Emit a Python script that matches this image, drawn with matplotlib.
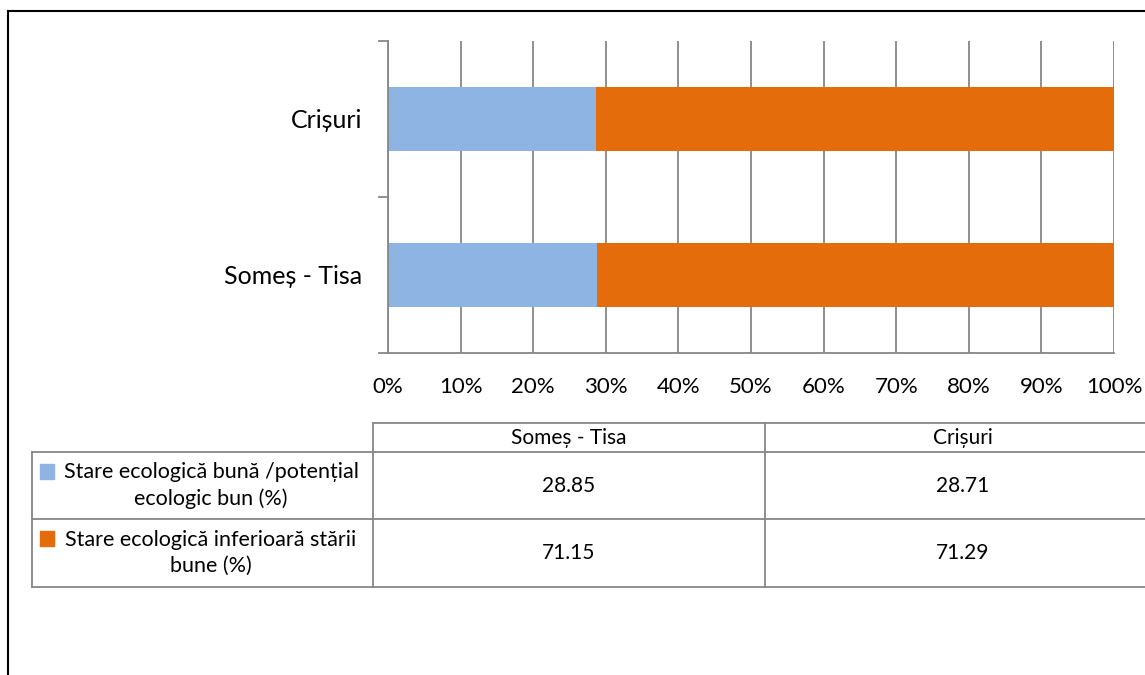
import numpy as np
import matplotlib
matplotlib.use('Agg')
import matplotlib.pyplot as plt
from matplotlib.patches import Rectangle

# date
categorii = ['Someș - Tisa', 'Crișuri']
serii = ['Stare ecologică bună /potențial\necologic bun (%)',
         'Stare ecologică inferioară stării\nbune (%)']
stare_buna = [28.85, 28.71]
stare_inferioara = [71.15, 71.29]
culori = ['#8EB4E3', '#E46C0A']
procente = ['0%', '10%', '20%', '30%', '40%', '50%', '60%', '70%', '80%', '90%', '100%']

W, H = 1145, 675
plt.rcParams['font.family'] = ['Lato', 'DejaVu Sans']
fig = plt.figure(figsize=(W / 100, H / 100), dpi=100)

def fx(px):
    return px / W

def fy(py):
    return 1 - py / H

# chenarul exterior (taiat in dreapta si jos)
fig.add_artist(plt.Line2D([fx(8), fx(8)], [fy(11), 0], color='black', lw=1.5))
fig.add_artist(plt.Line2D([fx(8), 1], [fy(11), fy(11)], color='black', lw=1.5))

# graficul cu bare stivuite
gri = '#868686'
ax = fig.add_axes([fx(388), fy(353), fx(1114) - fx(388), (353 - 41) / H])
y = np.arange(len(categorii))
ax.barh(y, stare_buna, height=0.41, color=culori[0])
ax.barh(y, stare_inferioara, left=stare_buna, height=0.41, color=culori[1])
ax.set_xlim(0, 100)
ax.set_ylim(-0.5, 1.5)
ax.set_xticks(np.arange(0, 101, 10))
ax.set_xticklabels(procente, fontsize=16)
ax.set_yticks(y)
ax.set_yticklabels(categorii, fontsize=18)
ax.tick_params(axis='y', length=0, pad=18.5)
ax.tick_params(axis='x', length=0, pad=17.5)
ax.grid(axis='x', color=gri, lw=1.3)
ax.set_axisbelow(True)
for s in ['top', 'right']:
    ax.spines[s].set_visible(False)
for s in ['left', 'bottom']:
    ax.spines[s].set_color(gri)
    ax.spines[s].set_linewidth(1.3)
# mici marcaje pe axa y
for yy in [-0.5, 0.5, 1.5]:
    ax.plot([-1.2, 0], [yy, yy], color=gri, lw=1.3, clip_on=False)

# tabelul de date
def linie(x0, y0, x1, y1):
    fig.add_artist(plt.Line2D([fx(x0), fx(x1)], [fy(y0), fy(y1)], color=gri, lw=1.3))

col_x = [373, 765, 1161]
rand_y = [423, 452, 519, 587]
linie(col_x[0], rand_y[0], W, rand_y[0])
for ry in rand_y[1:]:
    linie(32, ry, W, ry)
linie(32, rand_y[1], 32, rand_y[3])
for cx in col_x[:2]:
    linie(cx, rand_y[0], cx, rand_y[3])

for i, cat in enumerate(categorii):
    cx = (col_x[i] + col_x[i + 1]) / 2
    fig.text(fx(cx), fy(438), cat, ha='center', va='center', fontsize=15)

for r, (nume, vals) in enumerate(zip(serii, [stare_buna, stare_inferioara])):
    yc = (rand_y[r + 1] + rand_y[r + 2]) / 2
    fig.text(fx(211), fy(yc), nume, ha='center', va='center', fontsize=15.5,
             linespacing=1.4)
    fig.add_artist(Rectangle((fx(40), fy(yc - 22 + 15)), fx(14), 15 / H,
                             color=culori[r], transform=fig.transFigure))
    for i, v in enumerate(vals):
        cx = (col_x[i] + col_x[i + 1]) / 2
        fig.text(fx(cx), fy(yc), f'{v:.2f}', ha='center', va='center', fontsize=15)

plt.savefig('out.png', dpi=100)
